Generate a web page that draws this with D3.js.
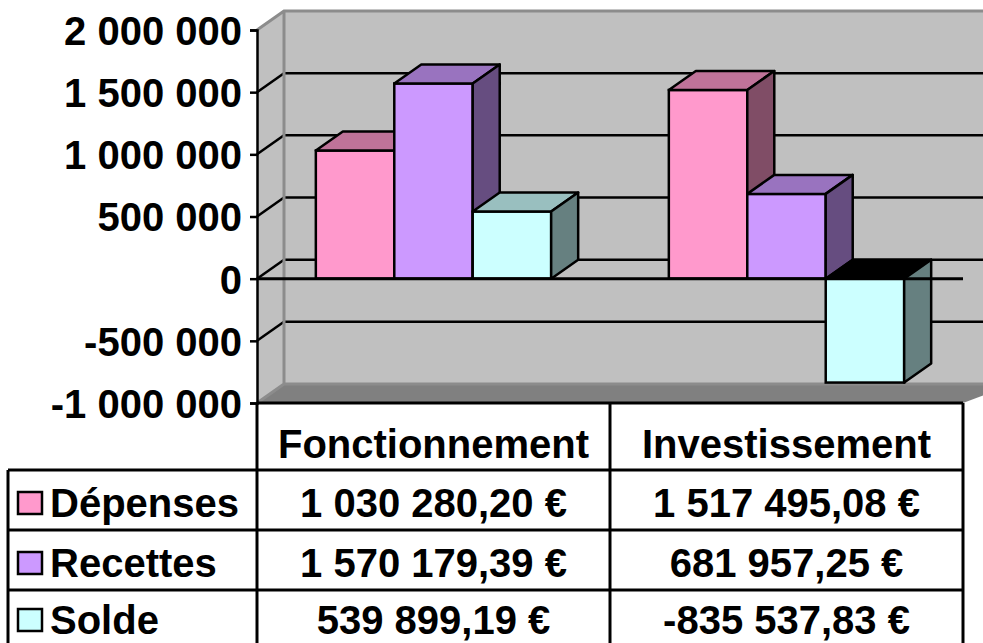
<!DOCTYPE html>
<html>
<head>
<meta charset="utf-8">
<script src="https://cdn.jsdelivr.net/npm/d3@7"></script>
<style>
  body { margin: 0; background: #fff; }
  svg text { font-family: "Liberation Sans", Arial, sans-serif; font-weight: bold; font-size: 40px; fill: #000; }
</style>
</head>
<body>
<div id="chart"></div>
<script>
// data
const categories = ["Fonctionnement", "Investissement"];
const series = ["Dépenses", "Recettes", "Solde"];
const depenses = [1030280.20, 1517495.08];
const recettes = [1570179.39, 681957.25];
const solde = [539899.19, -835537.83];
const yTicks = [-1000000, -500000, 0, 500000, 1000000, 1500000, 2000000];
const seriesColors = ["#FF99CC", "#CC99FF", "#CCFFFF"];

const values = [depenses, recettes, solde];

const width = 983, height = 643;
const DX = 27, DY = -19;   // 3D depth offset

// french number format
const fr = d3.formatLocale({decimal: ",", thousands: " ", grouping: [3], currency: ["", " €"], minus: "-"});
const fmtAxis = fr.format(",.0f");
const fmtMoney = d => fr.format(",.2f")(d) + " €";

function shade(c, k) {
    let r = d3.rgb(c);
    return d3.rgb(r.r * k, r.g * k, r.b * k).formatHex();
}

let svg = d3.select("#chart").append("svg")
    .attr("width", width)
    .attr("height", height);

let y = d3.scaleLinear().domain([-1000000, 2000000]).range([403, 30]);
let x0 = d3.scaleBand().domain(categories).range([257, 963]);
let x1 = d3.scaleBand().domain(series).range([0, x0.bandwidth()]).paddingOuter(0.75);

let yTop = y(2000000), yBot = y(-1000000), xL = x0.range()[0], xR = x0.range()[1];

//back wall
svg.append("rect")
    .attr("x", xL + DX).attr("y", yTop + DY)
    .attr("width", 1000).attr("height", yBot - yTop)
    .attr("fill", "#C0C0C0");

//left side wall
svg.append("polygon")
    .attr("points", [[xL, yTop], [xL + DX, yTop + DY], [xL + DX, yBot + DY], [xL, yBot]].join(" "))
    .attr("fill", "#C0C0C0");

//gridlines on the walls
let gridVals = yTicks.filter(d => d > -1000000 && d < 2000000);
svg.selectAll(".gridBack").data(gridVals).enter()
    .append("line")
    .attr("x1", xL + DX).attr("x2", width + 10)
    .attr("y1", d => y(d) + DY).attr("y2", d => y(d) + DY)
    .attr("stroke", "#000").attr("stroke-width", 2.5);
svg.selectAll(".gridSide").data(gridVals).enter()
    .append("line")
    .attr("x1", xL).attr("x2", xL + DX)
    .attr("y1", d => y(d)).attr("y2", d => y(d) + DY)
    .attr("stroke", "#000").attr("stroke-width", 2.5);

//floor
svg.append("polygon")
    .attr("points", [[xL, yBot], [xL + DX, yBot + DY], [width + 30, yBot + DY], [xR, yBot]].join(" "))
    .attr("fill", "#808080");

//wall edges
svg.append("path")
    .attr("d", `M${xL},${yTop}L${xL + DX},${yTop + DY}L${width + 10},${yTop + DY}`
        + `M${xL + DX},${yTop + DY}L${xL + DX},${yBot + DY}L${width + 10},${yBot + DY}`
        + `M${xL + DX},${yBot + DY}L${xL},${yBot}`)
    .attr("fill", "none").attr("stroke", "#8C8C8C").attr("stroke-width", 3);

//bars
let bars = [];
categories.forEach((c, ci) => {
    series.forEach((s, si) => {
        bars.push({cat: c, ser: s, si: si, value: values[si][ci]});
    });
});

let y0 = y(0);
let barG = svg.selectAll(".bar").data(bars).enter().append("g").attr("class", "bar");
barG.each(function(d) {
    let g = d3.select(this);
    let bx = x0(d.cat) + x1(d.ser), bw = x1.bandwidth();
    let yt = Math.min(y(d.value), y0), yb = Math.max(y(d.value), y0);
    let col = seriesColors[d.si];
    g.append("rect")
        .attr("x", bx).attr("y", yt).attr("width", bw).attr("height", yb - yt)
        .attr("fill", col).attr("stroke", "#000").attr("stroke-width", 2.5);
    g.append("polygon")
        .attr("points", [[bx, yt], [bx + DX, yt + DY], [bx + bw + DX, yt + DY], [bx + bw, yt]].join(" "))
        .attr("fill", d.value < 0 ? "#000" : shade(col, 0.75))
        .attr("stroke", "#000").attr("stroke-width", 2.5).attr("stroke-linejoin", "round");
    g.append("polygon")
        .attr("points", [[bx + bw, yt], [bx + bw + DX, yt + DY], [bx + bw + DX, yb + DY], [bx + bw, yb]].join(" "))
        .attr("fill", shade(col, 0.5))
        .attr("stroke", "#000").attr("stroke-width", 2.5).attr("stroke-linejoin", "round");
});

//zero line (category axis)
svg.append("line")
    .attr("x1", xL).attr("x2", xR)
    .attr("y1", y0).attr("y2", y0)
    .attr("stroke", "#000").attr("stroke-width", 3);

//value axis
let yAxis = d3.axisLeft(y).tickValues(yTicks).tickFormat(fmtAxis).tickSize(7).tickPadding(8);
let axG = svg.append("g").attr("transform", `translate(${xL},0)`).call(yAxis);
axG.select(".domain").attr("stroke-width", 2.5);
axG.selectAll(".tick line").attr("stroke-width", 2.5);
axG.selectAll(".tick text")
    .attr("font-family", null).attr("font-size", null)
    .attr("dy", "0.36em");
axG.attr("font-size", null).attr("font-family", null);

//data table
let rowTop = [403, 470, 530, 590, 650];
let baselines = [517, 577, 634];
let colX = [8, xL, x0(categories[1]), xR];
let table = svg.append("g");
let ln = (x1_, y1_, x2_, y2_) => table.append("line")
    .attr("x1", x1_).attr("y1", y1_).attr("x2", x2_).attr("y2", y2_)
    .attr("stroke", "#000").attr("stroke-width", 3);

ln(xL, rowTop[0], xR, rowTop[0]);
rowTop.slice(1, 4).forEach(r => ln(colX[0], r, xR, r));
ln(colX[0], rowTop[1], colX[0], height + 5);
[xL, colX[2], xR].forEach(cx => ln(cx, rowTop[0], cx, height + 5));

//header
table.selectAll(".head").data(categories).enter()
    .append("text")
    .attr("x", d => x0(d) + x0.bandwidth() / 2)
    .attr("y", 458)
    .attr("text-anchor", "middle")
    .text(d => d);

//rows
series.forEach((s, si) => {
    let base = baselines[si];
    table.append("rect")
        .attr("x", 18).attr("y", base - 25).attr("width", 24).attr("height", 22)
        .attr("fill", seriesColors[si]).attr("stroke", "#000").attr("stroke-width", 2.5);
    table.append("text").attr("x", 50).attr("y", base).text(s);
    categories.forEach((c, ci) => {
        table.append("text")
            .attr("x", x0(c) + x0.bandwidth() / 2)
            .attr("y", base)
            .attr("text-anchor", "middle")
            .text(fmtMoney(values[si][ci]));
    });
});
</script>
</body>
</html>
